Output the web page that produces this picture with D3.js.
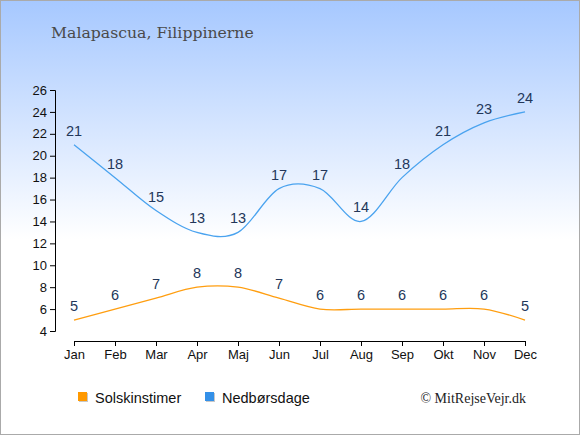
<!DOCTYPE html>
<html lang="da">
<head>
<meta charset="UTF-8">
<title>Malapascua, Filippinerne</title>
<script src="https://cdn.jsdelivr.net/npm/d3@7"></script>
<style>
  body{margin:0;padding:0;}
  text{font-family:"Liberation Sans",Arial,sans-serif;}
</style>
</head>
<body>
<script>
    var months=["Jan","Feb","Mar","Apr","Maj","Jun","Jul","Aug","Sep","Okt","Nov","Dec"];
    var sunHours=[5,6,7,8,8,7,6,6,6,6,6,5];
    var rainDays=[21,18,15,13,13,17,17,14,18,21,23,24];
    var yTicks=[4,6,8,10,12,14,16,18,20,22,24,26];

    var width=580,height=435;
    var svg=d3.select("body").append("svg")
        .attr("width",width)
        .attr("height",height);

    // baggrund
    var grad=svg.append("defs").append("linearGradient")
        .attr("id","bg").attr("x1",0).attr("y1",0).attr("x2",0).attr("y2",1);
    grad.append("stop").attr("offset","0%").attr("stop-color","#a6c8ff");
    grad.append("stop").attr("offset","55%").attr("stop-color","#ffffff");
    grad.append("stop").attr("offset","100%").attr("stop-color","#ffffff");
    svg.append("rect")
        .attr("x",0.5).attr("y",0.5)
        .attr("width",width-1).attr("height",height-1)
        .attr("fill","url(#bg)")
        .attr("stroke","#aaaaaa");

    svg.append("text")
        .attr("x",51).attr("y",38)
        .style("font-family","'DejaVu Serif','Liberation Serif',serif")
        .style("font-size","15.7px")
        .attr("fill","#4a4a4a")
        .text("Malapascua, Filippinerne");

    var x=d3.scalePoint().domain(months).range([74,525]);
    var y=d3.scaleLinear().domain([4,26]).range([331,90]);

    var xAxis=svg.append("g")
        .attr("transform","translate(0,341)")
        .call(d3.axisBottom(x).tickSizeOuter(0).tickSize(5).tickPadding(4));
    var yAxis=svg.append("g")
        .attr("transform","translate(55,0)")
        .call(d3.axisLeft(y).tickValues(yTicks).tickSizeOuter(0).tickSize(5).tickPadding(3));
    [xAxis,yAxis].forEach(function(a){
        a.select(".domain").attr("stroke","#000");
        a.selectAll(".tick line").attr("stroke","#000");
        a.selectAll(".tick text")
            .style("font-size","13px")
            .style("font-family","'Liberation Sans',Arial,sans-serif")
            .attr("fill","#111");
    });

    var line=d3.line()
        .x(function(d,i){return x(months[i]);})
        .y(function(d){return y(d);})
        .curve(d3.curveCardinal.tension(0));

    var series=[
        {name:"Solskinstimer",values:sunHours,color:"#ff9e10",box:"#ff9900"},
        {name:"Nedbørsdage",values:rainDays,color:"#4aa3ef",box:"#3490e8"}
    ];

    series.forEach(function(s){
        svg.append("path")
            .datum(s.values)
            .attr("d",line)
            .attr("fill","none")
            .attr("stroke",s.color)
            .attr("stroke-width",1.3);

        svg.selectAll(null).data(s.values).enter().append("text")
            .attr("x",function(d,i){return x(months[i]);})
            .attr("y",function(d){return y(d)-9;})
            .attr("text-anchor","middle")
            .style("font-size","14.5px")
            .attr("fill","#23375a")
            .text(function(d){return d;});
    });

    // forklaring
    var legendX=[78,205];
    series.forEach(function(s,i){
        var g=svg.append("g").attr("transform","translate("+legendX[i]+",392)");
        g.append("rect").attr("x",1).attr("y",1).attr("width",9).attr("height",9).attr("fill","#c8c8c8");
        g.append("rect").attr("width",9).attr("height",9).attr("fill",s.box);
        g.append("text").attr("x",17).attr("y",10.5)
            .style("font-size","14.5px")
            .attr("fill","#111")
            .text(s.name);
    });

    svg.append("text")
        .attr("x",526).attr("y",403)
        .attr("text-anchor","end")
        .style("font-family","'Liberation Serif','DejaVu Serif',serif")
        .style("font-size","14px")
        .attr("fill","#222")
        .text("© MitRejseVejr.dk");
</script>
</body>
</html>
